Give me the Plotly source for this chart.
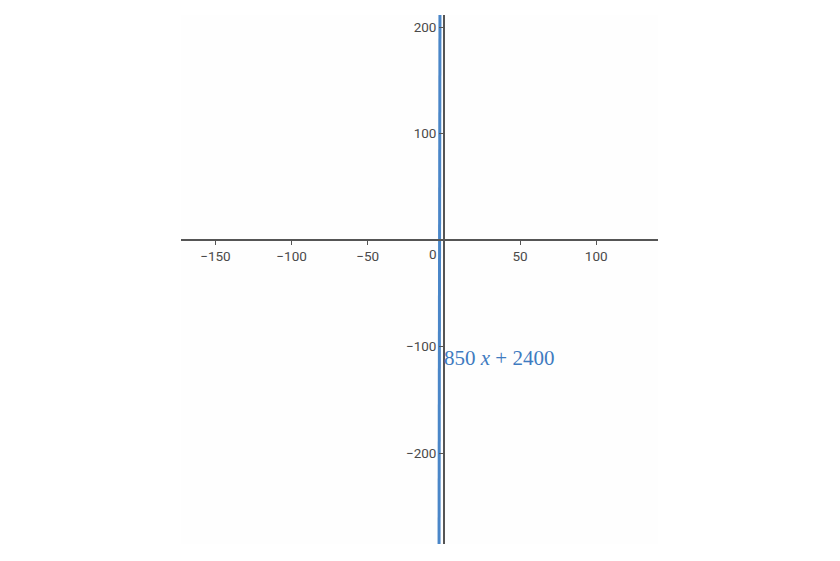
import plotly.graph_objects as go

# line y = 850x + 2400, endpoints beyond the visible window
line_x = [-3.18, -2.56]
line_y = [-303, 224]
label_text = "850 <i>x</i> + 2400"
label_y = -111

x_range = [-172.6, 140.6]
y_range = [-285.4, 211.3]
x_ticks = [-150, -100, -50, 50, 100]
y_ticks = [-200, -100, 100, 200]

fig = go.Figure()
fig.add_trace(go.Scatter(
    x=line_x, y=line_y, mode="lines",
    line=dict(color="#4a86c8", width=3),
    hoverinfo="skip", showlegend=False,
))

fig.add_annotation(
    x=0, y=label_y, text=label_text, showarrow=False,
    xanchor="left", yanchor="middle", xshift=-2,
    font=dict(family="Liberation Serif, DejaVu Serif, serif", size=21, color="#3f7bc0"),
)
fig.add_annotation(
    x=0, y=0, text="0", showarrow=False,
    xanchor="right", yanchor="top", xshift=-5, yshift=-4,
    font=dict(family="Roboto, sans-serif", size=13.5, color="#4a4a4a"),
)

axis_common = dict(
    showgrid=False, zeroline=False, showline=True,
    linecolor="#555", linewidth=1.5,
    ticks="outside", ticklen=4, tickcolor="#555",
    tickfont=dict(family="Roboto, sans-serif", size=13.5, color="#4a4a4a"),
    anchor="free", fixedrange=True,
)

fig.update_layout(
    width=840, height=561,
    margin=dict(l=173, r=190, t=7, b=25),
    paper_bgcolor="white",
    plot_bgcolor="#fefefe",
    xaxis=dict(range=x_range, tickvals=x_ticks,
               position=(0 - y_range[0]) / (y_range[1] - y_range[0]),
               **axis_common),
    yaxis=dict(range=y_range, tickvals=y_ticks,
               position=(0 - x_range[0]) / (x_range[1] - x_range[0]),
               **axis_common),
)

fig.write_html("out.html")
